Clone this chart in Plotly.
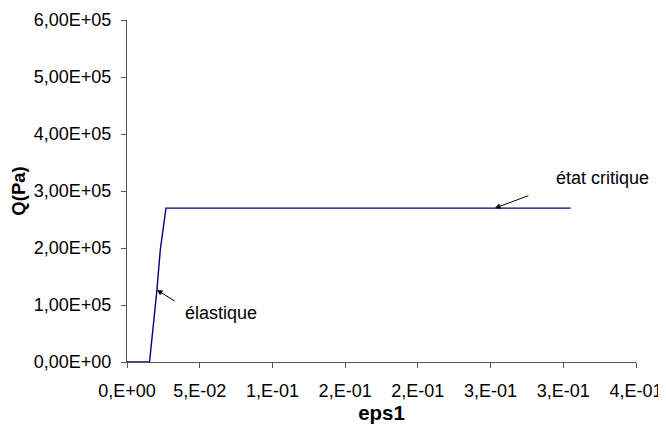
import plotly.graph_objects as go

# data
eps1 = [0.0, 0.0155, 0.0206, 0.0229, 0.0268, 0.305]
q_pa = [0.0, 0.0, 1.27e5, 1.97e5, 2.70e5, 2.70e5]

x_tickvals = [0, 0.05, 0.10, 0.15, 0.20, 0.25, 0.30, 0.35]
x_ticktext = ["0,E+00", "5,E-02", "1,E-01", "2,E-01", "2,E-01", "3,E-01", "3,E-01", "4,E-01"]
y_tickvals = [0, 1e5, 2e5, 3e5, 4e5, 5e5, 6e5]
y_ticktext = ["0,00E+00", "1,00E+05", "2,00E+05", "3,00E+05", "4,00E+05", "5,00E+05", "6,00E+05"]

ann_labels = ["élastique", "état critique"]
ann_x = [0.0206, 0.253]
ann_y = [1.265e5, 2.70e5]

FONT = "Liberation Sans, Arial, sans-serif"

fig = go.Figure()
fig.add_trace(go.Scatter(x=eps1, y=q_pa, mode="lines",
                         line=dict(color="#000080", width=1.4),
                         showlegend=False, hoverinfo="skip"))

# arrows (offsets in pixels from head to tail) and text placement
arrow_offsets = [(19, 12), (35, -13)]
text_offsets = [(64, 23), (108, -30)]
for lab, x, y, (ax, ay), (tx, ty) in zip(ann_labels, ann_x, ann_y, arrow_offsets, text_offsets):
    fig.add_annotation(x=x, y=y, xref="x", yref="y", text="", showarrow=True,
                       ax=ax, ay=ay, arrowhead=2, arrowsize=1.1, arrowwidth=1,
                       arrowcolor="black", standoff=0, startstandoff=0)
    fig.add_annotation(x=x, y=y, xref="x", yref="y", text=lab, showarrow=False,
                       xshift=tx, yshift=-ty, font=dict(family=FONT, size=18, color="black"))

fig.update_layout(
    width=666, height=425,
    margin=dict(l=119, r=38, t=12, b=71),
    paper_bgcolor="white", plot_bgcolor="white",
    font=dict(family=FONT, color="black"),
)
fig.update_xaxes(range=[0, 0.35], tickvals=x_tickvals, ticktext=x_ticktext,
                 showgrid=False, zeroline=False, showline=True, linecolor="#555555",
                 linewidth=1, ticks="outside", ticklen=5, tickcolor="#555555",
                 automargin=False, ticklabelstandoff=7,
                 tickfont=dict(family=FONT, size=18, color="black"),
                 title=dict(text="<b>eps1</b>", font=dict(family=FONT, size=20.5, color="black"), standoff=0))
fig.update_yaxes(range=[0, 6e5], tickvals=y_tickvals, ticktext=y_ticktext,
                 showgrid=False, zeroline=False, showline=True, linecolor="#555555",
                 linewidth=1, ticks="outside", ticklen=5, tickcolor="#555555",
                 automargin=False, ticklabelstandoff=6,
                 tickfont=dict(family=FONT, size=18, color="black"),
                 title=dict(text="<b>Q(Pa)</b>", font=dict(family=FONT, size=18.5, color="black"), standoff=8))

fig.write_html("out.html")
